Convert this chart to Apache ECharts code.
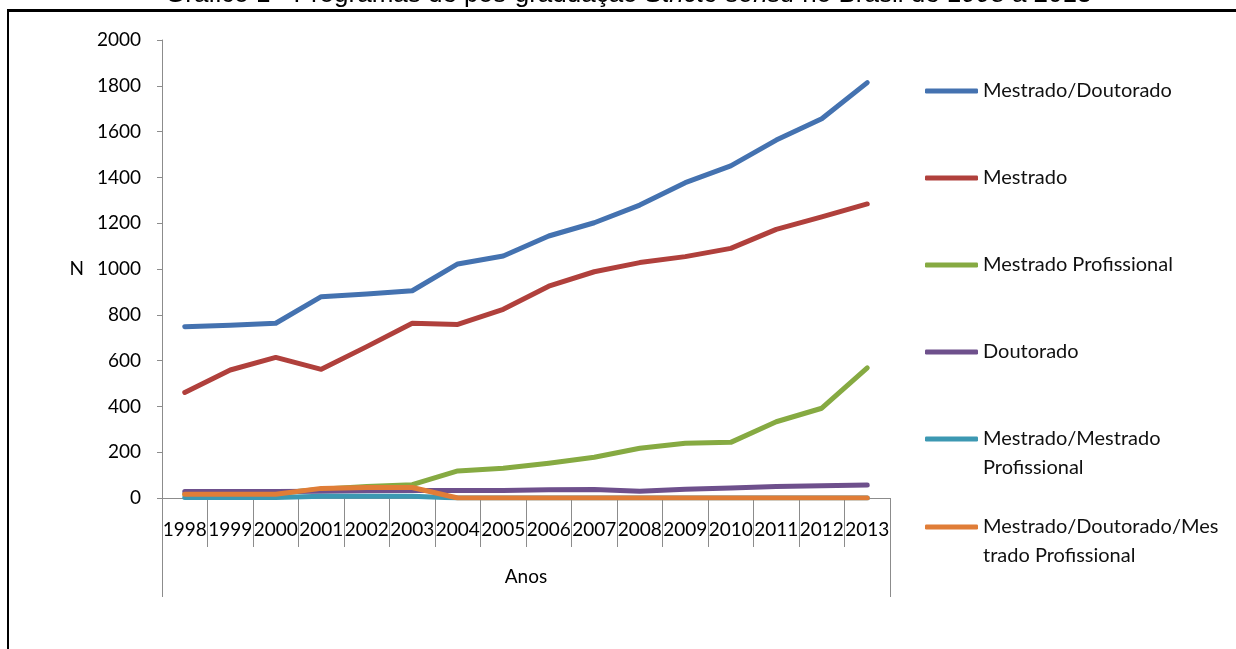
<!DOCTYPE html>
<html>
<head>
<meta charset="utf-8">
<script src="https://cdn.jsdelivr.net/npm/echarts@6/dist/echarts.min.js"></script>
<style>
  html, body { margin: 0; padding: 0; background: #fff; }
  body { width: 1236px; height: 649px; position: relative; overflow: hidden; }
  /* frame around the figure: only its top and left edges fall inside the page */
  #frame { position: absolute; left: 7px; top: 9px; width: 1300px; height: 700px;
           border-left: 2px solid #000; border-top: 3px solid #000; box-sizing: border-box; }
  #chart { position: absolute; left: 0; top: 0; width: 1236px; height: 649px; }
</style>
</head>
<body>
<div id="frame"></div>
<div id="chart"></div>
<script>
// Programas de pós-graduação por ano
const years = ['1998', '1999', '2000', '2001', '2002', '2003', '2004', '2005',
               '2006', '2007', '2008', '2009', '2010', '2011', '2012', '2013'];
const mestradoDoutorado = [748, 754, 763, 879, 891, 905, 1022, 1057, 1144, 1202, 1279, 1377, 1450, 1563, 1656, 1814];
const mestrado = [461, 559, 614, 562, 661, 763, 758, 824, 925, 988, 1028, 1054, 1090, 1173, 1228, 1284];
const mestradoProfissional = [15, 17, 20, 38, 50, 58, 118, 130, 152, 178, 217, 239, 243, 333, 392, 568];
const doutorado = [28, 28, 28, 30, 32, 33, 33, 33, 36, 37, 30, 38, 44, 50, 53, 57];
const mestradoMestradoProf = [2, 2, 2, 8, 8, 8, 0, 0, 0, 0, 0, 0, 0, 0, 0, 0];
const mestradoDoutoradoProf = [16, 16, 16, 42, 46, 46, 0, 0, 0, 0, 0, 0, 0, 0, 0, 0];

const seriesNames = ['Mestrado/Doutorado', 'Mestrado', 'Mestrado Profissional', 'Doutorado',
                     'Mestrado/Mestrado Profissional', 'Mestrado/Doutorado/Mestrado Profissional'];
const seriesValues = [mestradoDoutorado, mestrado, mestradoProfissional, doutorado,
                      mestradoMestradoProf, mestradoDoutoradoProf];
const seriesColors = ['#4472B0', '#B0403C', '#86AA42', '#6E508C', '#3C98B2', '#E07D37'];

const yTicks = { min: 0, max: 2000, interval: 200 };

const FONT = 'Lato';
const FS = 19;
const LEGEND_FS = 20;
const axisGray = '#8c8c8c';

// legend labels wrapped the way they appear next to the plot
const legendText = {
  'Mestrado/Mestrado Profissional': '\nMestrado/Mestrado\nProfissional',
  'Mestrado/Doutorado/Mestrado Profissional': '\nMestrado/Doutorado/Mes\ntrado Profissional'
};

function legendBox(names, top, gap) {
  return {
    data: names,
    orient: 'vertical',
    left: 925,
    top: top,
    padding: 0,
    itemGap: gap,
    itemWidth: 53,
    itemHeight: 5,
    icon: 'roundRect',
    selectedMode: false,
    formatter: n => legendText[n] || n,
    textStyle: { fontFamily: FONT, fontSize: LEGEND_FS, color: '#111', lineHeight: 29 }
  };
}

const chart = echarts.init(document.getElementById('chart'), null, { renderer: 'canvas' });
chart.setOption({
  backgroundColor: 'transparent',
  animation: false,
  title: {
    text: 'Gráfico 1 - Programas de pós-graduação {i|Stricto sensu} no Brasil de 1998 a 2013',
    left: 165,
    top: -18.5,
    padding: 0,
    textStyle: {
      fontFamily: 'Liberation Sans', fontSize: 26, fontWeight: 'normal', color: '#000',
      rich: { i: { fontFamily: 'Liberation Sans', fontSize: 26, fontStyle: 'italic', color: '#000' } }
    }
  },
  legend: [
    legendBox(seriesNames.slice(0, 4), 76.5, 58),
    legendBox([seriesNames[4]], 439 - 43.5, 0),
    legendBox([seriesNames[5]], 527 - 43.5, 0)
  ],
  grid: { left: 162, right: 346, top: 40, bottom: 151, containLabel: false },
  xAxis: [
    {
      type: 'category',
      data: years,
      boundaryGap: true,
      axisLine: { show: true, lineStyle: { color: axisGray, width: 1 } },
      axisTick: { show: true, length: 49, interval: 0, lineStyle: { color: axisGray } },
      axisLabel: { interval: 0, margin: 22, fontFamily: FONT, fontSize: FS, color: '#000' },
      splitLine: { show: false }
    },
    {
      type: 'category',
      data: ['Anos'],
      position: 'bottom',
      boundaryGap: true,
      axisLine: { show: false },
      axisTick: { show: true, length: 99, lineStyle: { color: axisGray } },
      axisLabel: { margin: 69, fontFamily: FONT, fontSize: FS, color: '#000' },
      splitLine: { show: false }
    }
  ],
  yAxis: {
    type: 'value',
    min: yTicks.min,
    max: yTicks.max,
    interval: yTicks.interval,
    name: 'N',
    nameLocation: 'middle',
    nameRotate: 0,
    nameGap: 78,
    nameTextStyle: { fontFamily: FONT, fontSize: FS, color: '#000' },
    axisLine: { show: true, lineStyle: { color: axisGray, width: 1 } },
    axisTick: { show: true, length: 5, lineStyle: { color: axisGray } },
    axisLabel: { margin: 21, fontFamily: FONT, fontSize: FS, color: '#000', formatter: v => String(v) },
    splitLine: { show: false }
  },
  series: seriesNames.map((name, i) => ({
    name: name,
    type: 'line',
    xAxisIndex: 0,
    data: seriesValues[i],
    symbol: 'none',
    color: seriesColors[i],
    lineStyle: { width: 5, color: seriesColors[i], cap: 'round', join: 'round' },
    emphasis: { disabled: true }
  }))
});
</script>
</body>
</html>
